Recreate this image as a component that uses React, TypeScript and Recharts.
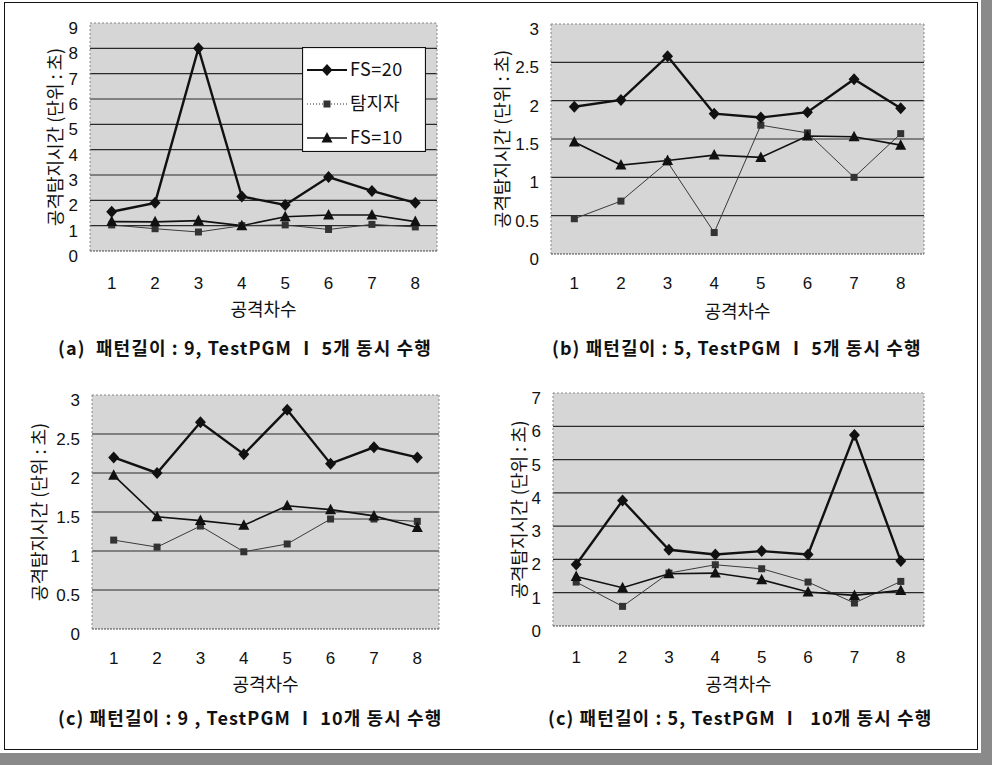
import React from 'react';
import { LineChart, Line, XAxis, YAxis, CartesianGrid, ReferenceLine, Legend } from 'recharts';

// ---- data ----
const categories = [1, 2, 3, 4, 5, 6, 7, 8];
const seriesNames = ['FS=20', '탐지자', 'FS=10'];

const aFs20 = [1.55, 1.9, 8.0, 2.15, 1.82, 2.92, 2.37, 1.9];
const aDet = [1.03, 0.88, 0.75, 1.0, 1.03, 0.85, 1.05, 0.95];
const aFs10 = [1.16, 1.15, 1.2, 1.0, 1.35, 1.42, 1.42, 1.16];
const aTicks = [0, 1, 2, 3, 4, 5, 6, 7, 8, 9];

const bFs20 = [1.92, 2.01, 2.58, 1.83, 1.78, 1.85, 2.28, 1.9];
const bDet = [0.46, 0.69, 1.2, 0.28, 1.68, 1.58, 1.0, 1.57];
const bFs10 = [1.46, 1.16, 1.22, 1.29, 1.26, 1.54, 1.53, 1.42];
const bTicks = [0, 0.5, 1, 1.5, 2, 2.5, 3];

const cFs20 = [2.2, 2.0, 2.65, 2.24, 2.81, 2.12, 2.33, 2.2];
const cDet = [1.14, 1.05, 1.32, 0.99, 1.09, 1.41, 1.41, 1.38];
const cFs10 = [1.97, 1.44, 1.39, 1.33, 1.58, 1.53, 1.45, 1.3];
const cTicks = [0, 0.5, 1, 1.5, 2, 2.5, 3];

const dFs20 = [1.85, 3.77, 2.29, 2.15, 2.25, 2.15, 5.74, 1.95];
const dDet = [1.32, 0.59, 1.59, 1.84, 1.72, 1.32, 0.69, 1.34];
const dFs10 = [1.49, 1.15, 1.57, 1.59, 1.39, 1.02, 0.92, 1.07];
const dTicks = [0, 1, 2, 3, 4, 5, 6, 7];

const captions = [
  '(a)  패턴길이 : 9, TestPGM Ⅰ 5개 동시 수행',
  '(b) 패턴길이 : 5, TestPGM Ⅰ 5개 동시 수행',
  '(c) 패턴길이 : 9 , TestPGM Ⅰ 10개 동시 수행',
  '(c) 패턴길이 : 5, TestPGM Ⅰ  10개 동시 수행',
];
const yTitle = '공격탐지시간 (단위 : 초)';
const xTitle = '공격차수';

const FONT = '"Liberation Sans", "Noto Sans CJK KR", sans-serif';
const KFONT = '"Noto Sans CJK KR", "Liberation Sans", sans-serif';

const diamondPath = (cx: number, cy: number) =>
  `M${cx},${cy - 6}L${cx + 5.5},${cy}L${cx},${cy + 6}L${cx - 5.5},${cy}Z`;
const trianglePath = (cx: number, cy: number) =>
  `M${cx},${cy - 6}L${cx + 5.5},${cy + 4.5}L${cx - 5.5},${cy + 4.5}Z`;

const DiamondDot = (p: any) => <path key={`d${p.index}`} d={diamondPath(p.cx, p.cy)} fill="#111" />;
const SquareDot = (p: any) => (
  <rect key={`s${p.index}`} x={p.cx - 3.5} y={p.cy - 3.5} width={7} height={7} fill="#333" />
);
const TriangleDot = (p: any) => <path key={`t${p.index}`} d={trianglePath(p.cx, p.cy)} fill="#111" />;

const LegendBox = () => (
  <svg width={124} height={105} style={{ display: 'block' }}>
    <rect x={0.5} y={0.5} width={123} height={104} fill="#fff" stroke="#111" strokeWidth={1.2} />
    <line x1={5} x2={45} y1={23} y2={23} stroke="#111" strokeWidth={2} />
    <path d={diamondPath(25, 23)} fill="#111" />
    <text x={48} y={23} dy="0.36em" fontSize={18} fontFamily={KFONT} letterSpacing={0.5} fill="#111">
      {seriesNames[0]}
    </text>
    <line x1={5} x2={45} y1={57} y2={57} stroke="#333" strokeWidth={1} strokeDasharray="1 2" />
    <rect x={21.5} y={53.5} width={7} height={7} fill="#333" />
    <text x={48} y={57} dy="0.36em" fontSize={18} fontFamily={KFONT} fill="#111">
      {seriesNames[1]}
    </text>
    <line x1={5} x2={45} y1={91} y2={91} stroke="#111" strokeWidth={1.5} />
    <path d={trianglePath(25, 91)} fill="#111" />
    <text x={48} y={91} dy="0.36em" fontSize={18} fontFamily={KFONT} letterSpacing={0.5} fill="#111">
      {seriesNames[2]}
    </text>
  </svg>
);

type PanelProps = {
  left: number;
  top: number;
  width: number;
  height: number;
  plotLeft: number;
  plotRight: number;
  plotTop: number;
  plotBottom: number;
  yAxisWidth: number;
  titleX: number;
  titleBaseline: number;
  xTickGap: number;
  ticks: number[];
  fs20: number[];
  det: number[];
  fs10: number[];
  legend?: boolean;
};

const Panel = (p: PanelProps) => {
  const data = categories.map((c, i) => ({ x: c, fs20: p.fs20[i], det: p.det[i], fs10: p.fs10[i] }));
  const yMax = p.ticks[p.ticks.length - 1];
  const xAxisHeight = 70;
  const margin = {
    top: p.plotTop,
    left: p.plotLeft - p.yAxisWidth,
    right: p.width - p.plotRight,
    bottom: p.height - p.plotBottom - xAxisHeight,
  };
  const gridValues = p.ticks.slice(1, -1);
  return (
    <div style={{ position: 'absolute', left: p.left, top: p.top }}>
      <LineChart width={p.width} height={p.height} data={data} margin={margin}>
        <CartesianGrid horizontal={false} vertical={false} fill="#d6d6d6" stroke="none" />
        <XAxis
          type="number"
          dataKey="x"
          domain={[0.5, 8.5]}
          ticks={categories}
          interval={0}
          axisLine={false}
          tickLine={false}
          tickMargin={p.xTickGap}
          height={xAxisHeight}
          tick={{ fontSize: 17, fill: '#111', fontFamily: FONT }}
          label={{
            value: xTitle,
            position: 'insideBottom',
            offset: xAxisHeight - (p.titleBaseline - p.plotBottom),
            style: { fontSize: 18, fill: '#111', fontFamily: KFONT },
          }}
        />
        <YAxis
          type="number"
          domain={[0, yMax]}
          ticks={p.ticks}
          interval={0}
          axisLine={false}
          tickLine={false}
          tickMargin={6}
          width={p.yAxisWidth}
          tick={{ fontSize: 17, fill: '#111', fontFamily: FONT, dy: 5 }}
          label={{
            value: yTitle,
            angle: -90,
            position: 'insideLeft',
            offset: p.titleX - (p.plotLeft - p.yAxisWidth),
            style: { fontSize: 18, fill: '#111', fontFamily: KFONT, textAnchor: 'middle' },
          }}
        />
        {gridValues.map((v) => (
          <ReferenceLine key={`g${v}`} y={v} stroke="#2a2a2a" strokeWidth={1.2} />
        ))}
        <ReferenceLine y={yMax} stroke="#888" strokeDasharray="2 2" />
        <ReferenceLine y={0} stroke="#444" strokeDasharray="2 1" />
        <ReferenceLine x={0.5} stroke="#888" strokeDasharray="2 2" />
        <ReferenceLine x={8.5} stroke="#888" strokeDasharray="2 2" />
        <Line
          dataKey="det"
          name={seriesNames[1]}
          stroke="#3a3a3a"
          strokeWidth={1}
          dot={SquareDot}
          isAnimationActive={false}
        />
        <Line
          dataKey="fs10"
          name={seriesNames[2]}
          stroke="#111"
          strokeWidth={1.6}
          dot={TriangleDot}
          isAnimationActive={false}
        />
        <Line
          dataKey="fs20"
          name={seriesNames[0]}
          stroke="#111"
          strokeWidth={2.4}
          dot={DiamondDot}
          isAnimationActive={false}
        />
        {p.legend ? (
          <Legend
            layout="vertical"
            align="center"
            verticalAlign="middle"
            content={() => <LegendBox />}
            wrapperStyle={{ position: 'absolute', left: 302 - p.left, top: 47 - p.top, width: 124, height: 105 }}
          />
        ) : null}
      </LineChart>
    </div>
  );
};

const Caption = ({ left, top, text }: { left: number; top: number; text: string }) => (
  <div
    style={{
      position: 'absolute',
      left,
      top,
      fontFamily: KFONT,
      fontWeight: 700,
      fontSize: 18,
      letterSpacing: 1.1,
      lineHeight: '20px',
      whiteSpace: 'pre',
      color: '#111',
    }}
  >
    {text}
  </div>
);

export default function App() {
  return (
    <div style={{ position: 'absolute', left: 0, top: 0, width: 992, height: 765, background: '#fff', overflow: 'hidden' }}>
      <div style={{ position: 'absolute', left: 981, top: 0, width: 11, height: 765, background: '#8a8a8a' }} />
      <div style={{ position: 'absolute', left: 0, top: 753, width: 992, height: 12, background: '#8a8a8a' }} />
      <div
        style={{
          position: 'absolute',
          left: 4,
          top: 2,
          width: 974,
          height: 748,
          border: '1.5px solid #111',
          boxSizing: 'border-box',
        }}
      />
      <Panel
        left={0}
        top={0}
        width={460}
        height={330}
        plotLeft={90}
        plotRight={437}
        plotTop={23}
        plotBottom={251}
        yAxisWidth={40}
        titleX={56}
        titleBaseline={316}
        xTickGap={20}
        ticks={aTicks}
        fs20={aFs20}
        det={aDet}
        fs10={aFs10}
        legend
      />
      <Panel
        left={476}
        top={0}
        width={490}
        height={330}
        plotLeft={75}
        plotRight={448}
        plotTop={24}
        plotBottom={254}
        yAxisWidth={50}
        titleX={27}
        titleBaseline={318}
        xTickGap={17}
        ticks={bTicks}
        fs20={bFs20}
        det={bDet}
        fs10={bFs10}
      />
      <Panel
        left={0}
        top={370}
        width={460}
        height={340}
        plotLeft={92}
        plotRight={439}
        plotTop={25}
        plotBottom={259}
        yAxisWidth={55}
        titleX={40}
        titleBaseline={321}
        xTickGap={17}
        ticks={cTicks}
        fs20={cFs20}
        det={cDet}
        fs10={cFs10}
      />
      <Panel
        left={476}
        top={370}
        width={490}
        height={340}
        plotLeft={77}
        plotRight={448}
        plotTop={23}
        plotBottom={256}
        yAxisWidth={40}
        titleX={44}
        titleBaseline={321}
        xTickGap={19}
        ticks={dTicks}
        fs20={dFs20}
        det={dDet}
        fs10={dFs10}
      />
      <Caption left={58} top={337} text={captions[0]} />
      <Caption left={552} top={337} text={captions[1]} />
      <Caption left={58} top={707} text={captions[2]} />
      <Caption left={548} top={707} text={captions[3]} />
    </div>
  );
}
